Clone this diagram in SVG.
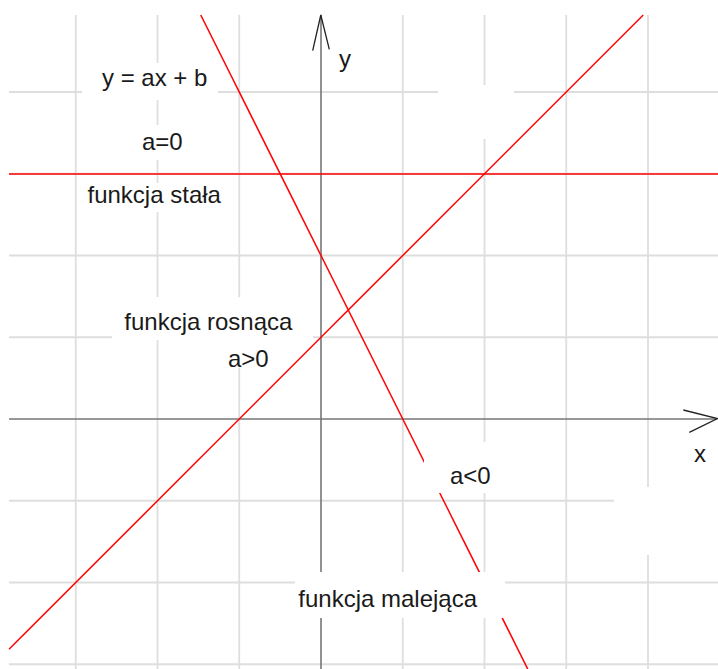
<svg xmlns="http://www.w3.org/2000/svg" width="718" height="669" viewBox="0 0 718 669">
<style>
.grid{stroke:#dedede;stroke-width:1.8;fill:none}
.axis{stroke:#767676;stroke-width:1.6;fill:none}
.arrow{stroke:#222;stroke-width:1.3;fill:none}
.fn{stroke:#ff0000;stroke-width:1.5;fill:none}
.box{fill:#ffffff;stroke:none}
.lbl{font-family:"Liberation Sans",Arial,sans-serif;font-size:24px;fill:#1a1a1a}
</style>
<rect width="718" height="669" fill="#ffffff"/>
<g id="grid">
<path class="grid" d="M75.75 15V669M157.5 15V669M239.25 15V669M402.75 15V669M484.5 15V669M566.25 15V669M648 15V669"/>
<path class="grid" d="M9 92H718M9 173.75H718M9 255.5H718M9 337.25H718M9 500.75H718M9 582.5H718M9 664.25H718"/>
</g>
<g id="axes">
<path class="axis" d="M321 15V669"/>
<path class="axis" d="M9 419H717"/>
<path class="arrow" d="M312.7 50.7L320.8 15L329.3 49.3"/>
<path class="arrow" d="M683.3 410L717.5 418.5L689.3 432.3"/>
</g>
<g id="connectors">
<path class="fn" d="M9 174H718"/>
<path class="fn" d="M9 649.25L643.25 15"/>
<path class="fn" d="M200.75 15L527.75 669"/>
</g>
<g id="label-equation"><rect class="box" x="82" y="63" width="136" height="37"/><text class="lbl" x="102" y="85.5">y = ax + b</text></g>
<g id="label-a0"><rect class="box" x="122" y="125" width="81" height="35"/><text class="lbl" x="142" y="150">a=0</text></g>
<g id="label-stala"><rect class="box" x="80" y="183" width="148" height="29"/><text class="lbl" x="87.5" y="202.5">funkcja stała</text></g>
<g id="blank-top"><rect class="box" x="438" y="85" width="76" height="54"/></g>
<g id="label-rosnaca"><rect class="box" x="112" y="297" width="201" height="43"/><text class="lbl" x="124.3" y="330">funkcja rosnąca</text></g>
<g id="label-agt0"><rect class="box" x="215" y="340" width="70" height="28"/><text class="lbl" x="228" y="367.3">a&gt;0</text></g>
<g id="label-alt0"><rect class="box" x="424" y="442" width="91" height="51"/><text class="lbl" x="450" y="484.3">a&lt;0</text></g>
<g id="blank-right"><rect class="box" x="614" y="487" width="104" height="68"/></g>
<g id="label-malejaca"><rect class="box" x="295" y="572" width="210" height="46"/><text class="lbl" x="298.3" y="606.7">funkcja malejąca</text></g>
<g id="label-x"><text class="lbl" x="694" y="461.5">x</text></g>
<g id="label-y"><text class="lbl" x="339" y="66.5">y</text></g>
</svg>
